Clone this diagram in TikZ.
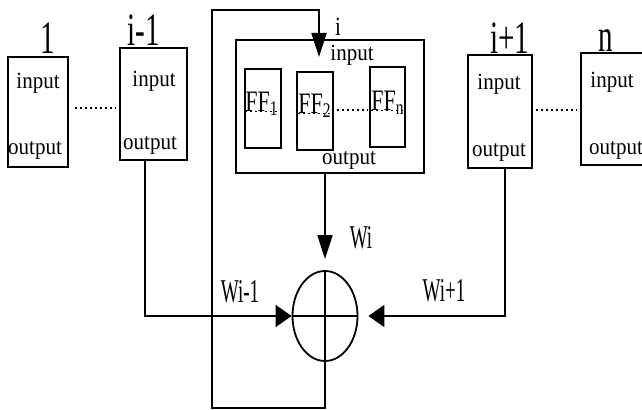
\documentclass[tikz,border=0pt]{standalone}
\usepackage{fontspec}
\setmainfont{Liberation Serif}
\usetikzlibrary{arrows.meta,calc,shapes.geometric}
\newcommand{\tallbox}[2]{\scalebox{1}[#1]{#2}}

\begin{document}
\begin{tikzpicture}[x=0.5pt,y=-0.5pt,line width=0.9pt,
  blk/.style={draw,rectangle,inner sep=0pt},
  io/.style={inner sep=0pt,font=\fontsize{10.5}{12}\selectfont},
  idx/.style={inner sep=0pt,font=\fontsize{14.5}{16}\selectfont},
  wlbl/.style={inner sep=0pt,font=\fontsize{9.5}{11}\selectfont},
  ffl/.style={inner sep=0pt,font=\fontsize{11}{12}\selectfont},
  dots/.style={dash pattern=on 1.2pt off 1.3pt},
  vflow/.style={-{Triangle[length=12pt,width=7.5pt]}},
  hflow/.style={-{Triangle[length=8pt,width=11pt]}}]
  \useasboundingbox (0,0) rectangle (642,410);
  \clip (0,0) rectangle (642,410);
  % processors
  \node[blk,minimum width=30pt,minimum height=55pt] (b1) at (38,112) {};
  \node[blk,minimum width=33.5pt,minimum height=56pt] (bim1) at (153.5,104) {};
  \node[blk,minimum width=94pt,minimum height=66.5pt] (bi) at (330,106.5) {};
  \node[blk,minimum width=32pt,minimum height=56.5pt] (bip1) at (500,111.5) {};
  \node[blk,minimum width=34pt,minimum height=56pt] (bn) at (615,109) {};
  % flip-flops of processor i
  \node[blk,minimum width=18pt,minimum height=39.5pt] (ff1) at (263,108.5) {};
  \node[blk,minimum width=18pt,minimum height=39pt] (ff2) at (315,111) {};
  \node[blk,minimum width=17.5pt,minimum height=40pt] (ffn) at (387.5,107) {};
  \node[ffl] (fl1) at (262,104) {\tallbox{1.35}{FF\textsubscript{1}}};
  \node[ffl] (fl2) at (315,106) {\tallbox{1.35}{FF\textsubscript{2}}};
  \node[ffl] (fln) at (388,103) {\tallbox{1.35}{FF\textsubscript{n}}};
  \draw[dots] (fl1.base west) -- (fl1.base east);
  \draw[dots] (fl2.base west) -- (fl2.base east);
  \draw[dots] (fln.base west) -- (fln.base east);
  % indices
  \node[idx] (l1) at (48,38) {\tallbox{1.6}{1}};
  \node[idx] (lim1) at (144,30) {\tallbox{1.6}{i-1}};
  \node[io] (li) at (338,27) {\tallbox{1.25}{i}};
  \node[idx] (lip1) at (510,38) {\tallbox{1.6}{i+1}};
  \node[idx] (ln) at (606,41) {\tallbox{1.6}{n}};
  % input / output
  \node[io] (in1) at (38,83) {\tallbox{1.1}{input}};
  \node[io] (out1) at (35,150) {\tallbox{1.1}{output}};
  \node[io] (inim1) at (154,81) {\tallbox{1.1}{input}};
  \node[io] (outim1) at (150,145) {\tallbox{1.1}{output}};
  \node[io] (ini) at (352,55) {\tallbox{1.1}{input}};
  \node[io] (outi) at (349,160) {\tallbox{1.1}{output}};
  \node[io] (inip1) at (499,84) {\tallbox{1.1}{input}};
  \node[io] (outip1) at (499,152) {\tallbox{1.1}{output}};
  \node[io] (inn) at (612,82) {\tallbox{1.1}{input}};
  \node[io] (outn) at (616,150) {\tallbox{1.1}{output}};
  % dotted gaps
  \draw[dots] ($(b1.east)+(6,-4)$) -- ($(bim1.west)+(-4,4)$);
  \draw[dots] ($(ff2.east)+(3,-1)$) -- ($(ffn.west)+(-1,3)$);
  \draw[dots] ($(bip1.east)+(3,-1.5)$) -- ($(bn.west)+(-3,1)$);
  % adder
  \node[draw,ellipse,minimum width=32.5pt,minimum height=45pt,inner sep=0pt] (sum) at (325,316) {};
  \draw (sum.north) -- (sum.south) (sum.west) -- (sum.east);
  \node[wlbl] (wi) at (361,238) {\tallbox{1.75}{Wi}};
  \node[wlbl] (wim1) at (240,292) {\tallbox{1.75}{Wi-1}};
  \node[wlbl] (wip1) at (444,291) {\tallbox{1.75}{Wi+1}};
  % connections
  \draw[hflow] ($(bim1.south)+(-8.5,0)$) |- (sum.west);
  \draw[vflow,shorten >=5.5pt] (sum |- bi.south) -- (sum.north);
  \draw[hflow,shorten >=5pt] ($(bip1.south)+(5,0)$) |- (sum.east);
  \coordinate (fbbot) at (212,408);
  \coordinate (fbtop) at (212,10);
  \coordinate (fbin) at (319,57);
  \draw[vflow] (sum.south) |- (fbbot) -- (fbtop) -| (fbin);
\end{tikzpicture}
\end{document}
